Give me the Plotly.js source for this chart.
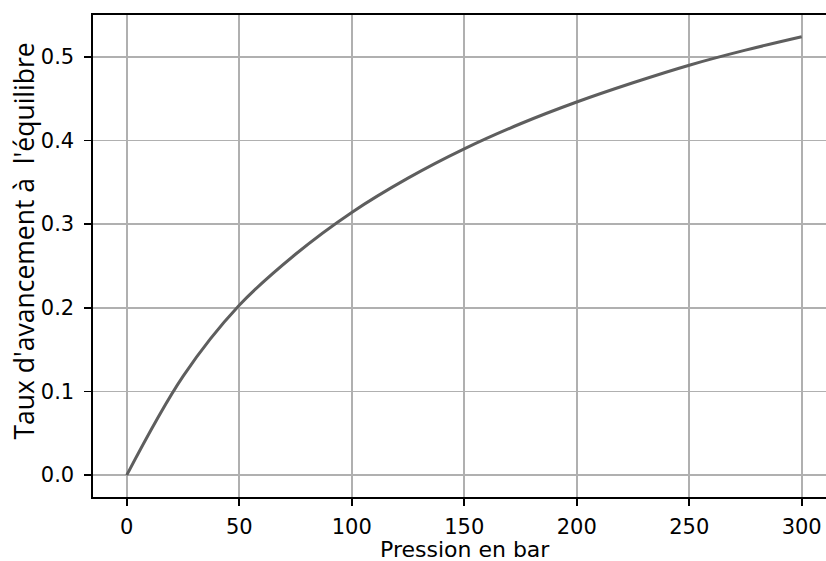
<!DOCTYPE html>
<html>
<head>
<meta charset="utf-8">
<script src="https://cdn.plot.ly/plotly-3.0.1.min.js"></script>
<style>html,body{margin:0;padding:0;background:#fff;}#chart{width:826px;height:561px;}</style>
</head>
<body>
<div id="chart"></div>
<script>
const pression = [0, 25, 50, 75, 100, 125, 150, 175, 200, 225, 250, 275, 300];
const taux = [0, 0.118, 0.203, 0.264, 0.314, 0.355, 0.390, 0.420, 0.446, 0.469, 0.490, 0.508, 0.524];
const xTicks = [0, 50, 100, 150, 200, 250, 300];
const yTicks = [0.0, 0.1, 0.2, 0.3, 0.4, 0.5];
const yTickText = ['0.0', '0.1', '0.2', '0.3', '0.4', '0.5'];
const xTitle = 'Pression en bar';
const yTitle = "Taux d'avancement à\u00a0 l'équilibre";

const tickFont = {family: 'DejaVu Sans', size: 21, color: '#000'};

Plotly.newPlot('chart', [{
  x: pression, y: taux, type: 'scatter', mode: 'lines',
  line: {color: '#5e5e5e', width: 3, shape: 'spline', smoothing: 1},
  hoverinfo: 'none'
}], {
  width: 826, height: 561,
  margin: {l: 93, r: 0, t: 15, b: 64},
  paper_bgcolor: '#fff', plot_bgcolor: '#fff',
  showlegend: false,
  xaxis: {
    range: [-15, 310.8], tickvals: xTicks, ticktext: xTicks.map(String),
    showgrid: true, gridcolor: '#b0b0b0', gridwidth: 1.8,
    zeroline: false, showline: true, linecolor: '#000', linewidth: 1.6, mirror: true,
    ticks: 'outside', ticklen: 7, tickwidth: 1.6, tickcolor: '#000',
    tickfont: tickFont, ticklabelstandoff: 3
  },
  yaxis: {
    range: [-0.0262, 0.55], tickvals: yTicks, ticktext: yTickText,
    showgrid: true, gridcolor: '#b0b0b0', gridwidth: 1.8,
    zeroline: false, showline: true, linecolor: '#000', linewidth: 1.6,
    ticks: 'outside', ticklen: 7, tickwidth: 1.6, tickcolor: '#000',
    tickfont: tickFont, ticklabelstandoff: 6
  },
  annotations: [{
    text: yTitle, textangle: -90, showarrow: false,
    xref: 'paper', yref: 'paper', x: -0.0935, y: 0.531,
    xanchor: 'center', yanchor: 'middle',
    font: {family: 'Open Sans', size: 26.5, color: '#000'}
  }, {
    text: xTitle, showarrow: false,
    xref: 'paper', yref: 'paper', x: 0.5075, y: -0.108,
    xanchor: 'center', yanchor: 'middle',
    font: {family: 'DejaVu Sans', size: 22, color: '#000'}
  }]
}, {staticPlot: true});
</script>
</body>
</html>
